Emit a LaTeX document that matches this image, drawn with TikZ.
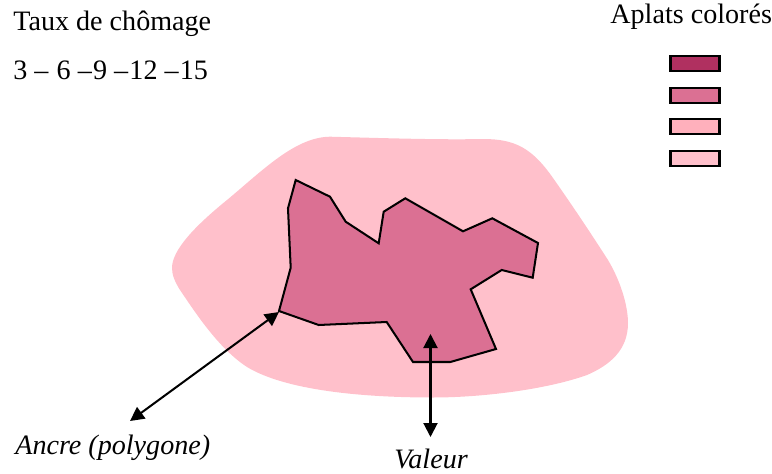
\documentclass[tikz,border=0pt]{standalone}
\usepackage{fontspec}
\setmainfont{Liberation Serif}
\usetikzlibrary{arrows.meta, positioning}
\definecolor{apDark}{HTML}{B03060}
\definecolor{apMid}{HTML}{DB7093}
\definecolor{apLight}{HTML}{FFB0BC}
\definecolor{apPink}{HTML}{FFC0CB}
\tikzset{
  apbox/.style={draw=black, line width=1.15pt, minimum width=0.98cm, minimum height=0.3cm, inner sep=0pt},
  lbl/.style={inner sep=0pt, anchor=base west, font=\fontsize{16}{19}\selectfont},
  flech/.style={<->, line width=1.15pt}
}
\begin{document}
\begin{tikzpicture}[x=0.02cm, y=-0.02cm, >={Triangle[length=0.28cm, width=0.28cm]}]
  \useasboundingbox (0,0) rectangle (772,474);
  % Zone de fond
  \fill[apPink] (172,268) .. controls (172,250) and (195,226) .. (227,200)
    .. controls (262,171) and (295,137) .. (330,136.7)
    .. controls (380,138) and (440,140) .. (483,139)
    .. controls (515,139) and (532,148) .. (553,178)
    .. controls (572,205) and (590,232) .. (608,260)
    .. controls (620,280) and (628,305) .. (628,323)
    .. controls (628,350) and (610,365) .. (587,375)
    .. controls (545,390) and (480,397.5) .. (433,397.5)
    .. controls (360,397.5) and (285,390) .. (247,367)
    .. controls (218,348) and (195,312) .. (180,290)
    .. controls (175,282) and (172,275) .. (172,268) -- cycle;
  % Polygone
  \draw[fill=apMid, line width=1.15pt] (295.7,180) -- (330,196.7) -- (345.7,221.7) -- (378.7,243.3)
    -- (383.7,211.7) -- (405.3,198.3) -- (463,231.3) -- (492.3,218.3) -- (538,243) -- (532.7,277.7)
    -- (501.7,270) -- (470.7,289.3) -- (496,349) -- (450.3,362) -- (413,362) -- (386.7,322)
    -- (318.7,325) -- (279,311) -- (290.7,267.7) -- (288,208.3) -- cycle;
  % Textes
  \node[lbl] (titre) at (13,30) {Taux de chômage};
  \node[lbl] (echelle) at (13,79) {3 –\kern.7pt{} 6 –\kern.7pt9 –\kern.7pt12 –\kern.7pt15};
  \node[lbl] (aplats) at (610,23) {Aplats colorés};
  \node[lbl, font=\fontsize{16}{19}\selectfont\itshape] (ancre) at (15,454) {Ancre (polygone)};
  \node[lbl, font=\fontsize{16}{19}\selectfont\itshape] (valeur) at (394,468) {Valeur};
  % Legende
  \node[apbox, fill=apDark] (ap1) at (695,63.5) {};
  \node[apbox, fill=apMid, below=0.29cm of ap1] (ap2) {};
  \node[apbox, fill=apLight, below=0.29cm of ap2] (ap3) {};
  \node[apbox, fill=apPink, below=0.29cm of ap3] (ap4) {};
  % Fleches
  \coordinate (ancreA) at (279,312);
  \coordinate (ancreB) at (130,421);
  \coordinate (valA) at (430.5,334);
  \coordinate (valB) at (430.5,437);
  \draw[flech] (ancreB) -- (ancreA);
  \draw[flech] (valB) -- (valA);
\end{tikzpicture}
\end{document}
